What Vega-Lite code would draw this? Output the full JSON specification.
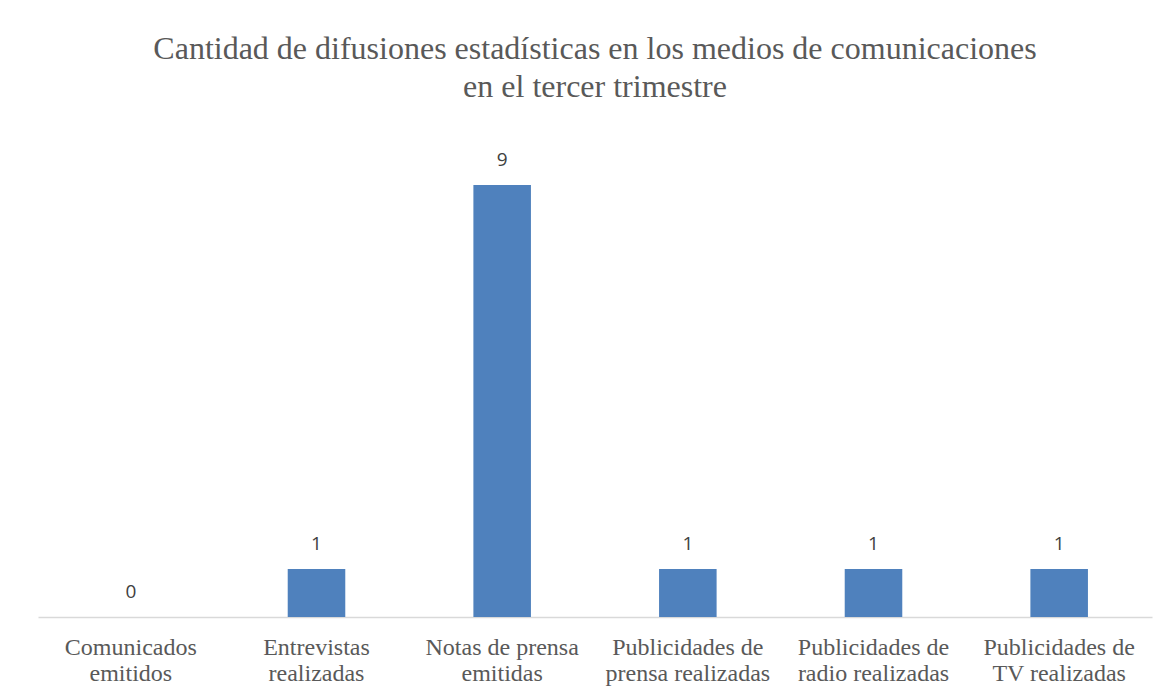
{
  "$schema": "https://vega.github.io/schema/vega-lite/v6.json",
  "autosize": {"type": "none"},
  "padding": {"left": 38, "top": 137, "right": 15, "bottom": 78},
  "width": 1114,
  "height": 480,
  "background": "white",
  "config": {"view": {"stroke": null}},
  "title": {
    "text": ["Cantidad de difusiones estadísticas en los medios de comunicaciones", "en el tercer trimestre"],
    "font": "Liberation Serif",
    "fontSize": 32,
    "fontWeight": "normal",
    "color": "#595959",
    "lineHeight": 38,
    "anchor": "middle",
    "offset": 33
  },
  "data": {
    "values": [
      {"categoria": "Comunicados emitidos", "cantidad": 0},
      {"categoria": "Entrevistas realizadas", "cantidad": 1},
      {"categoria": "Notas de prensa emitidas", "cantidad": 9},
      {"categoria": "Publicidades de prensa realizadas", "cantidad": 1},
      {"categoria": "Publicidades de radio realizadas", "cantidad": 1},
      {"categoria": "Publicidades de TV realizadas", "cantidad": 1}
    ]
  },
  "encoding": {
    "x": {
      "field": "categoria",
      "type": "nominal",
      "sort": null,
      "scale": {"paddingInner": 0.69, "paddingOuter": 0.345},
      "axis": {
        "title": null,
        "labelAngle": 0,
        "labelFont": "Liberation Serif",
        "labelFontSize": 24,
        "labelColor": "#595959",
        "labelLineHeight": 26,
        "labelPadding": 18,
        "labelBaseline": "top",
        "domainColor": "#D9D9D9",
        "domainWidth": 1.3,
        "ticks": false,
        "labelExpr": "{'Comunicados emitidos': ['Comunicados', 'emitidos'], 'Entrevistas realizadas': ['Entrevistas', 'realizadas'], 'Notas de prensa emitidas': ['Notas de prensa', 'emitidas'], 'Publicidades de prensa realizadas': ['Publicidades de', 'prensa realizadas'], 'Publicidades de radio realizadas': ['Publicidades de', 'radio realizadas'], 'Publicidades de TV realizadas': ['Publicidades de', 'TV realizadas']}[datum.label]"
      }
    },
    "y": {
      "field": "cantidad",
      "type": "quantitative",
      "scale": {"domain": [0, 10]},
      "axis": null
    }
  },
  "layer": [
    {"mark": {"type": "bar", "color": "#4F81BD"}},
    {
      "mark": {"type": "text", "font": "Open Sans", "fontSize": 19, "color": "#404040", "baseline": "middle", "dy": -25},
      "encoding": {"text": {"field": "cantidad", "type": "quantitative"}}
    }
  ]
}
